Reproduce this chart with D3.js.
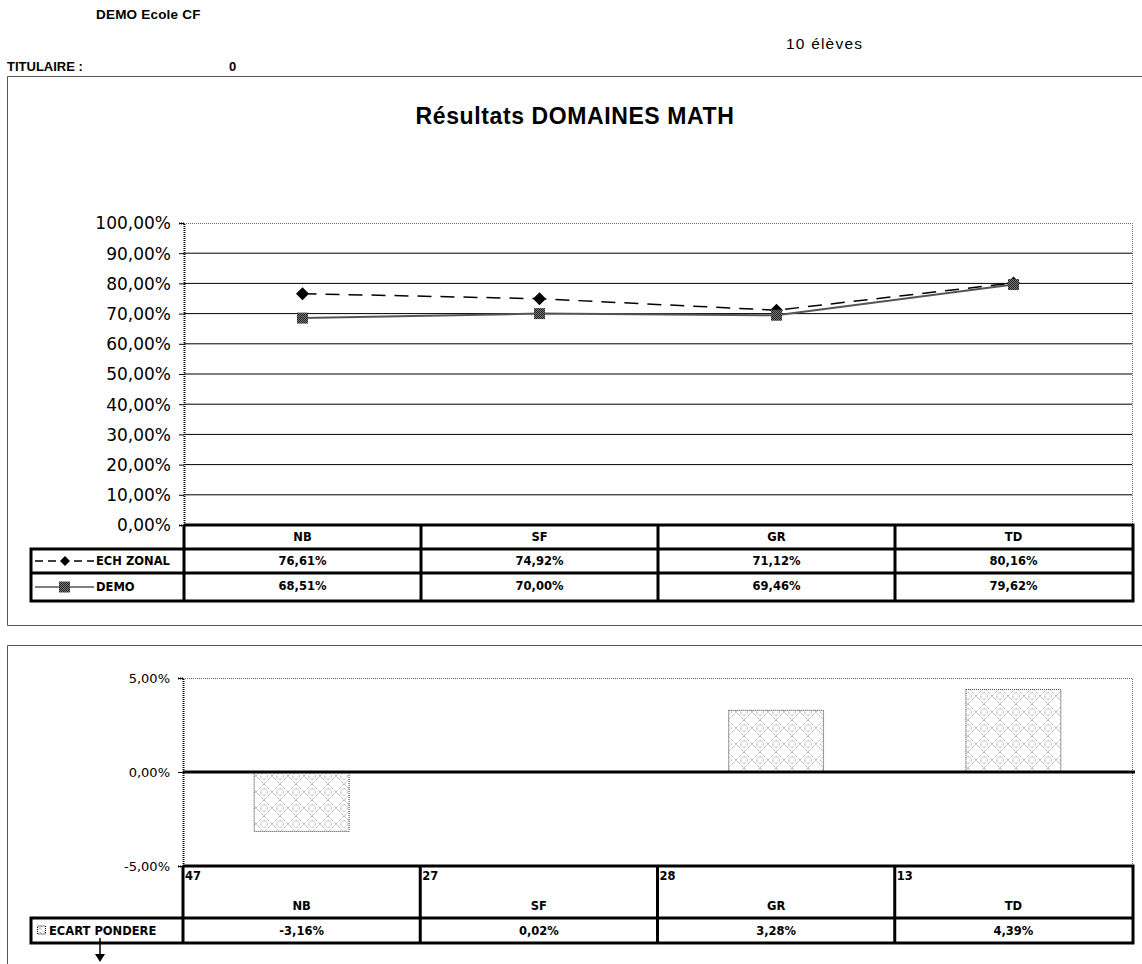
<!DOCTYPE html>
<html>
<head>
<meta charset="utf-8">
<script src="https://cdn.jsdelivr.net/npm/d3@7"></script>
<style>
  body { margin: 0; background: #fff; }
  svg { display: block; }
  text { font-family: "DejaVu Sans", Arial, sans-serif; fill: #000; }
  .bold { font-weight: bold; }
  .arial { font-family: "Liberation Sans", Arial, sans-serif; }
</style>
</head>
<body>
<svg id="chart" width="1142" height="964"></svg>
<script>
// categories and values
var categories = ["NB", "SF", "GR", "TD"];
var echZonal = [76.61, 74.92, 71.12, 80.16];
var demo = [68.51, 70.00, 69.46, 79.62];
var ecart = [-3.16, 0.02, 3.28, 4.39];
var effectifs = [47, 27, 28, 13];
var topTicks = [0, 10, 20, 30, 40, 50, 60, 70, 80, 90, 100];
var bottomTicks = [-5, 0, 5];

var fr = d3.formatLocale({ decimal: ",", thousands: " ", grouping: [3], currency: ["", "€"], minus: "-" });
var pct = v => fr.format(".2f")(v) + "%";

var svg = d3.select("#chart");
var defs = svg.append("defs");

// pattern used by the bars (light diamond lattice)
var pat = defs.append("pattern").attr("id", "diam").attr("patternUnits", "userSpaceOnUse")
    .attr("width", 16).attr("height", 16);
pat.append("rect").attr("width", 16).attr("height", 16).attr("fill", "#fff");
pat.append("path").attr("d", "M8,0 L16,8 L8,16 L0,8 Z M8,4 L12,8 L8,12 L4,8 Z")
    .attr("fill", "none").attr("stroke", "#999").attr("stroke-width", 1).attr("stroke-dasharray", "1,1");

// pattern for the square markers
var pat2 = defs.append("pattern").attr("id", "chk").attr("patternUnits", "userSpaceOnUse")
    .attr("width", 2).attr("height", 2);
pat2.append("rect").attr("width", 2).attr("height", 2).attr("fill", "#777");
pat2.append("rect").attr("width", 1).attr("height", 1).attr("fill", "#222");
pat2.append("rect").attr("x", 1).attr("y", 1).attr("width", 1).attr("height", 1).attr("fill", "#222");

var diamond = "M0,-6.5 L6.5,0 L0,6.5 L-6.5,0 Z";

// header texts
svg.append("text").attr("class", "bold arial").attr("x", 96).attr("y", 19).style("font-size", "13.5px")
    .style("letter-spacing", "0.2px").text("DEMO Ecole CF");
svg.append("text").attr("class", "arial").attr("x", 786).attr("y", 49).style("font-size", "15.5px")
    .style("letter-spacing", "1.2px").text("10 élèves");
svg.append("text").attr("class", "bold arial").attr("x", 7).attr("y", 71).style("font-size", "13px").text("TITULAIRE :");
svg.append("text").attr("class", "bold arial").attr("x", 229).attr("y", 71).style("font-size", "13px").text("0");

// chart frames
svg.append("path").attr("d", "M1150,76.5 H7.5 V625.5 H1150").attr("fill", "none").attr("stroke", "#555");
svg.append("path").attr("d", "M1150,645.5 H7.5 V970").attr("fill", "none").attr("stroke", "#555");

// ---------- top chart ----------
var left = 184, right = 1132;
var x = d3.scaleBand().domain(categories).range([left, right]);
var y = d3.scaleLinear().domain([0, 100]).range([525, 223]);

svg.append("text").attr("class", "bold arial").attr("x", 575).attr("y", 124)
    .attr("text-anchor", "middle").style("font-size", "23px").style("letter-spacing", "0.6px")
    .text("Résultats DOMAINES MATH");

// gridlines
svg.append("g").selectAll("line")
    .data(topTicks.filter(t => t > 0 && t < 100))
    .enter().append("line")
    .attr("x1", left).attr("x2", right)
    .attr("y1", d => y(d)).attr("y2", d => y(d))
    .attr("stroke", "#000").attr("stroke-width", 1);

// plot border (dotted)
svg.append("path").attr("d", `M${left},${y(100) + 0.5} H${right + 0.5} V${y(0)}`)
    .attr("fill", "none").attr("stroke", "#666").attr("stroke-dasharray", "1,1");

// y axis
var yAxis = svg.append("g").attr("transform", `translate(${left},0)`)
    .call(d3.axisLeft(y).tickValues(topTicks).tickSize(5).tickFormat(pct));
yAxis.select(".domain").attr("stroke", "#000").attr("stroke-dasharray", "1,1").attr("stroke-width", 2);
yAxis.selectAll("text").style("font-size", "17px").attr("x", -13).attr("dy", "0.35em");

// lines
var cx = d => x(d) + x.bandwidth() / 2;
var lineEch = d3.line().x((d, i) => cx(categories[i])).y(d => y(d));
svg.append("path").datum(echZonal).attr("d", lineEch)
    .attr("fill", "none").attr("stroke", "#000").attr("stroke-width", 1.5).attr("stroke-dasharray", "14,9");
svg.append("path").datum(demo).attr("d", lineEch)
    .attr("fill", "none").attr("stroke", "#555").attr("stroke-width", 2);

svg.append("g").selectAll("path").data(echZonal).enter().append("path")
    .attr("d", diamond)
    .attr("transform", (d, i) => `translate(${cx(categories[i])},${y(d)})`)
    .attr("fill", "#000");
svg.append("g").selectAll("rect").data(demo).enter().append("rect")
    .attr("x", (d, i) => cx(categories[i]) - 5.5).attr("y", d => y(d) - 5.5)
    .attr("width", 11).attr("height", 11).attr("fill", "url(#chk)");

// data table
var rowsTop = [525, 549, 573, 601];
var tbl = svg.append("g");
tbl.append("path").attr("d",
    `M${left},${rowsTop[0]} H${right + 1} V${rowsTop[3]} H31 V${rowsTop[1]} H${right + 1} M31,${rowsTop[2]} H${right + 1}` +
    categories.map(c => `M${x(c)},${rowsTop[0]} V${rowsTop[3]}`).join(""))
    .attr("fill", "none").attr("stroke", "#000").attr("stroke-width", 3);

tbl.selectAll(".cat").data(categories).enter().append("text").attr("class", "bold")
    .attr("x", d => cx(d)).attr("y", rowsTop[0] + 16).attr("text-anchor", "middle")
    .style("font-size", "11.5px").text(d => d);
tbl.selectAll(".ech").data(echZonal).enter().append("text").attr("class", "bold")
    .attr("x", (d, i) => cx(categories[i])).attr("y", rowsTop[1] + 16).attr("text-anchor", "middle")
    .style("font-size", "11.5px").text(d => pct(d));
tbl.selectAll(".demo").data(demo).enter().append("text").attr("class", "bold")
    .attr("x", (d, i) => cx(categories[i])).attr("y", rowsTop[2] + 17).attr("text-anchor", "middle")
    .style("font-size", "11.5px").text(d => pct(d));

// legend keys
var ly1 = (rowsTop[1] + rowsTop[2]) / 2, ly2 = (rowsTop[2] + rowsTop[3]) / 2;
tbl.append("line").attr("x1", 35).attr("x2", 94).attr("y1", ly1).attr("y2", ly1)
    .attr("stroke", "#000").attr("stroke-width", 1.5).attr("stroke-dasharray", "8,5");
tbl.append("path").attr("d", "M0,-5 L5,0 L0,5 L-5,0 Z")
    .attr("transform", `translate(65,${ly1})`).attr("fill", "#000");
tbl.append("text").attr("class", "bold").attr("x", 96).attr("y", ly1 + 4).style("font-size", "11.5px").text("ECH ZONAL");
tbl.append("line").attr("x1", 35).attr("x2", 94).attr("y1", ly2).attr("y2", ly2)
    .attr("stroke", "#555").attr("stroke-width", 1.5);
tbl.append("rect").attr("x", 59).attr("y", ly2 - 5.5).attr("width", 11).attr("height", 11).attr("fill", "url(#chk)");
tbl.append("text").attr("class", "bold").attr("x", 96).attr("y", ly2 + 4).style("font-size", "11.5px").text("DEMO");

// ---------- bottom chart ----------
var left2 = 183;
var x2 = d3.scaleBand().domain(categories).range([left2, right]).paddingInner(0.6).paddingOuter(0.3);
var xc2 = d3.scaleBand().domain(categories).range([left2, right]);
var y2 = d3.scaleLinear().domain([-5, 5]).range([866, 678]);

svg.append("path").attr("d", `M${left2},${y2(5) + 0.5} H${right + 0.5} V${y2(-5)}`)
    .attr("fill", "none").attr("stroke", "#666").attr("stroke-dasharray", "1,1");

svg.append("g").selectAll("rect").data(ecart).enter().append("rect")
    .attr("x", (d, i) => x2(categories[i]))
    .attr("y", d => Math.min(y2(d), y2(0)))
    .attr("width", x2.bandwidth())
    .attr("height", d => Math.abs(y2(d) - y2(0)))
    .attr("fill", "url(#diam)").attr("stroke", "#333").attr("stroke-dasharray", "1,1");

svg.append("line").attr("x1", left2).attr("x2", right + 3).attr("y1", y2(0)).attr("y2", y2(0))
    .attr("stroke", "#000").attr("stroke-width", 3);

var yAxis2 = svg.append("g").attr("transform", `translate(${left2},0)`)
    .call(d3.axisLeft(y2).tickValues(bottomTicks).tickSize(5).tickFormat(pct));
yAxis2.select(".domain").attr("stroke", "#000").attr("stroke-dasharray", "1,1").attr("stroke-width", 2);
yAxis2.selectAll("text").style("font-size", "13px").attr("x", -13).attr("dy", "0.35em");

var rowsBot = [866, 918, 943];
var tbl2 = svg.append("g");
tbl2.append("path").attr("d",
    `M${left2},${rowsBot[0]} H${right + 1} V${rowsBot[2]} H31 V${rowsBot[1]} H${right + 1}` +
    categories.map(c => `M${xc2(c)},${rowsBot[0]} V${rowsBot[2]}`).join(""))
    .attr("fill", "none").attr("stroke", "#000").attr("stroke-width", 3);

tbl2.selectAll(".n").data(effectifs).enter().append("text").attr("class", "bold")
    .attr("x", (d, i) => xc2(categories[i]) + 2).attr("y", rowsBot[0] + 14)
    .style("font-size", "11.5px").text(d => d);
tbl2.selectAll(".cat").data(categories).enter().append("text").attr("class", "bold")
    .attr("x", d => xc2(d) + xc2.bandwidth() / 2).attr("y", rowsBot[0] + 44).attr("text-anchor", "middle")
    .style("font-size", "11.5px").text(d => d);
tbl2.selectAll(".v").data(ecart).enter().append("text").attr("class", "bold")
    .attr("x", (d, i) => xc2(categories[i]) + xc2.bandwidth() / 2).attr("y", rowsBot[1] + 17).attr("text-anchor", "middle")
    .style("font-size", "11.5px").text(d => pct(d));

var ly3 = (rowsBot[1] + rowsBot[2]) / 2;
tbl2.append("rect").attr("x", 37.5).attr("y", ly3 - 4.5).attr("width", 8).attr("height", 8)
    .attr("fill", "url(#diam)").attr("stroke", "#000").attr("stroke-dasharray", "1,1");
tbl2.append("text").attr("class", "bold").attr("x", 49).attr("y", ly3 + 4).style("font-size", "11.5px").text("ECART PONDERE");

// small arrow under the legend
svg.append("line").attr("x1", 100).attr("x2", 100).attr("y1", 938).attr("y2", 956).attr("stroke", "#000").attr("stroke-width", 1.5);
svg.append("path").attr("d", "M95,954 L105,954 L100,962 Z").attr("fill", "#000");
</script>
</body>
</html>
